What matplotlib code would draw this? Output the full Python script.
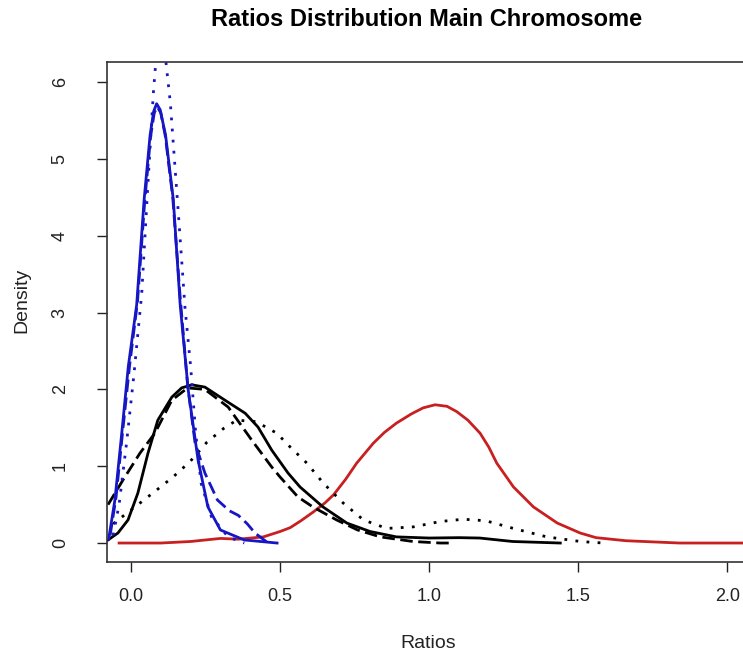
import matplotlib
matplotlib.use("Agg")
import matplotlib.pyplot as plt

# ------------------------------------------------------------------
# density curves (x = ratio, y = density)
# ------------------------------------------------------------------
blue_solid_x = [-0.075, -0.054, -0.031, -0.009, 0.019, 0.044, 0.064, 0.076, 0.086, 0.098,
                0.116, 0.142, 0.165, 0.192, 0.225, 0.258, 0.30, 0.38, 0.49]
blue_solid_y = [0.05, 0.56, 1.43, 2.30, 3.10, 4.47, 5.31, 5.62, 5.72, 5.64,
                5.31, 4.47, 3.10, 1.99, 1.08, 0.47, 0.17, 0.04, 0.0]

blue_dashed_x = [-0.07, -0.05, -0.028, -0.005, 0.022, 0.046, 0.066, 0.078, 0.088, 0.1,
                 0.115, 0.14, 0.165, 0.19, 0.215, 0.248, 0.29, 0.33, 0.36, 0.39, 0.416, 0.46]
blue_dashed_y = [0.1, 0.6, 1.45, 2.3, 3.15, 4.45, 5.3, 5.6, 5.68, 5.6,
                 5.3, 4.5, 3.2, 2.05, 1.3, 0.91, 0.56, 0.42, 0.36, 0.25, 0.13, 0.0]

blue_dotted_x = [-0.06, -0.04, -0.015, 0.01, 0.036, 0.057, 0.075, 0.09, 0.105, 0.12,
                 0.132, 0.145, 0.158, 0.17, 0.181, 0.2, 0.217, 0.235, 0.27, 0.326, 0.38]
blue_dotted_y = [0.1, 0.5, 1.3, 2.2, 3.25, 4.69, 5.86, 6.6, 6.7, 6.16,
                 5.73, 5.03, 4.34, 3.68, 3.07, 2.3, 1.43, 0.78, 0.34, 0.08, 0.0]

black_solid_x = [-0.077, -0.044, -0.01, 0.023, 0.057, 0.09, 0.137, 0.17, 0.204, 0.248,
                 0.315, 0.383, 0.426, 0.472, 0.527, 0.567, 0.644, 0.724, 0.802, 0.89,
                 1.0, 1.1, 1.17, 1.28, 1.36, 1.44]
black_solid_y = [0.04, 0.13, 0.30, 0.65, 1.17, 1.60, 1.90, 2.02, 2.06, 2.03,
                 1.86, 1.69, 1.51, 1.21, 0.91, 0.73, 0.47, 0.26, 0.15, 0.08,
                 0.065, 0.07, 0.065, 0.02, 0.01, 0.0]

black_dashed_x = [-0.077, -0.027, 0.03, 0.08, 0.137, 0.19, 0.248, 0.326, 0.405, 0.472,
                  0.5, 0.56, 0.61, 0.69, 0.76, 0.836, 0.946, 1.037, 1.07]
black_dashed_y = [0.5, 0.82, 1.17, 1.43, 1.86, 2.02, 2.0, 1.77, 1.34, 0.99,
                  0.86, 0.6, 0.47, 0.3, 0.17, 0.08, 0.02, 0.0, 0.0]

black_dotted_x = [-0.06, 0.03, 0.086, 0.141, 0.198, 0.254, 0.31, 0.355, 0.42, 0.489,
                  0.534, 0.59, 0.645, 0.712, 0.78, 0.858, 0.947, 1.037, 1.115, 1.19,
                  1.283, 1.395, 1.507, 1.585]
black_dotted_y = [0.25, 0.52, 0.69, 0.86, 1.06, 1.31, 1.49, 1.60, 1.58, 1.43,
                  1.25, 1.04, 0.78, 0.52, 0.30, 0.19, 0.21, 0.28, 0.31, 0.29,
                  0.19, 0.08, 0.02, 0.0]

red_x = [-0.04, 0.1, 0.2, 0.3, 0.36, 0.444, 0.5, 0.534, 0.57, 0.61, 0.65, 0.68, 0.72,
         0.757, 0.813, 0.85, 0.89, 0.94, 0.98, 1.02, 1.06, 1.093, 1.13, 1.171, 1.2,
         1.227, 1.283, 1.35, 1.43, 1.507, 1.56, 1.66, 1.84, 2.1]
red_y = [0.0, 0.0, 0.02, 0.06, 0.05, 0.08, 0.15, 0.2, 0.29, 0.40, 0.52, 0.63, 0.83,
         1.04, 1.30, 1.44, 1.56, 1.68, 1.76, 1.80, 1.78, 1.71, 1.60, 1.43, 1.25,
         1.04, 0.73, 0.47, 0.26, 0.13, 0.07, 0.03, 0.0, 0.0]

x_ticks = [0.0, 0.5, 1.0, 1.5, 2.0]
x_tick_labels = ["0.0", "0.5", "1.0", "1.5", "2.0"]
y_ticks = [0, 1, 2, 3, 4, 5, 6]

# ------------------------------------------------------------------
# figure
# ------------------------------------------------------------------
plt.rcParams['font.family'] = ['Liberation Sans', 'DejaVu Sans']

W, H = 743, 655
fig = plt.figure(figsize=(W / 100, H / 100), dpi=100)
# plot box in pixels: left 107, right just off canvas, top 62, bottom 562
ax = fig.add_axes([107 / W, (H - 562) / H, (746 - 107) / W, (562 - 62) / H])

BLUE = '#1616c4'
RED = '#c82020'
LW = 2.0
DOT = (0, (1, 3))
DASH = (0, (4.5, 2))

ax.plot(red_x, red_y, color=RED, lw=LW)
ax.plot(black_dotted_x, black_dotted_y, color='black', lw=LW, linestyle=DOT)
ax.plot(black_dashed_x, black_dashed_y, color='black', lw=LW, linestyle=DASH)
ax.plot(black_solid_x, black_solid_y, color='black', lw=LW)
ax.plot(blue_dotted_x, blue_dotted_y, color=BLUE, lw=LW, linestyle=DOT)
ax.plot(blue_dashed_x, blue_dashed_y, color=BLUE, lw=LW, linestyle=DASH)
ax.plot(blue_solid_x, blue_solid_y, color=BLUE, lw=LW)

ax.set_xlim(-0.0805, 2.063)
ax.set_ylim(-0.247, 6.263)

ax.set_xticks(x_ticks)
ax.set_xticklabels(x_tick_labels)
ax.set_yticks(y_ticks)
ax.set_yticklabels([str(v) for v in y_ticks], rotation=90, va='center')

ax.tick_params(axis='both', direction='out', length=7.5, width=1, colors='#222222',
               labelsize=13, labelcolor='#222222')
ax.tick_params(axis='x', pad=11)
ax.tick_params(axis='y', pad=20)
for s in ax.spines.values():
    s.set_linewidth(1.2)
    s.set_color('#333333')

fig.text(427 / W, 1 - 19 / H, "Ratios Distribution Main Chromosome",
         ha='center', va='center', fontsize=17, fontweight='bold')
fig.text(428 / W, 1 - 643 / H, "Ratios", ha='center', va='center', fontsize=14,
         color='#222222')
fig.text(22 / W, 1 - 300 / H, "Density", ha='center', va='center', fontsize=14,
         rotation=90, color='#222222')

fig.savefig("out.png", dpi=100)
